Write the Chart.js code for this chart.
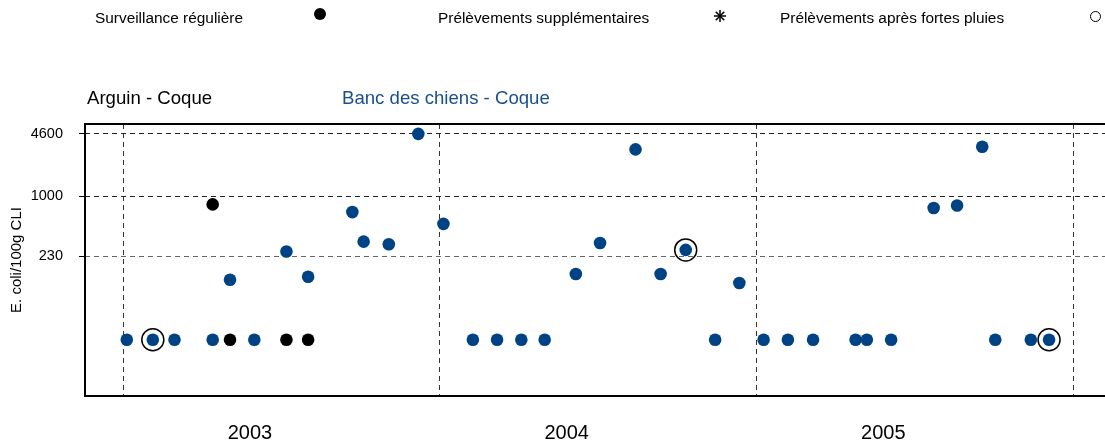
<!DOCTYPE html>
<html>
<head>
<meta charset="utf-8">
<script src="https://cdn.jsdelivr.net/npm/chart.js@4"></script>
<style>
  html,body{margin:0;padding:0;background:#fff;overflow:hidden;}
  body{font-family:"Liberation Sans",Arial,sans-serif;color:#000;}
  #wrap{position:relative;width:1105px;height:447px;}
  #wrap canvas{position:absolute;left:0;top:0;}
  .lbl{position:absolute;white-space:nowrap;line-height:1;}
  .dot{position:absolute;width:12px;height:12px;border-radius:50%;background:#000;}
  .ring{position:absolute;width:9px;height:9px;border-radius:50%;border:1.3px solid #000;}
</style>
</head>
<body>
<div id="wrap">
  <canvas id="chart"></canvas>
  <span class="lbl" style="left:95px;top:10px;font-size:15.4px;">Surveillance régulière</span>
  <div class="dot" style="left:314px;top:8px;"></div>
  <span class="lbl" style="left:438px;top:10px;font-size:15.4px;">Prélèvements supplémentaires</span>
  <svg style="position:absolute;left:713px;top:9px;" width="14" height="14" viewBox="0 0 14 14">
    <g stroke="#000" stroke-width="1.5"><line x1="7" y1="1" x2="7" y2="13"/><line x1="1" y1="7" x2="13" y2="7"/><line x1="2.8" y1="2.8" x2="11.2" y2="11.2"/><line x1="11.2" y1="2.8" x2="2.8" y2="11.2"/></g>
  </svg>
  <span class="lbl" style="left:780px;top:10px;font-size:15.4px;">Prélèvements après fortes pluies</span>
  <div class="ring" style="left:1090px;top:11px;"></div>
  <span class="lbl" style="left:87px;top:89px;font-size:18.6px;">Arguin - Coque</span>
  <span class="lbl" style="left:342px;top:89px;font-size:18.6px;color:#1a4f8f;">Banc des chiens - Coque</span>
</div>
<script>
// Banc des chiens - Coque (blue)
const bancDates=["2003-01-05","2003-02-04","2003-03-01","2003-04-14","2003-05-04","2003-06-01","2003-07-08","2003-08-02","2003-09-22","2003-10-05","2003-11-03","2003-12-07",
  "2004-01-05","2004-02-08","2004-03-07","2004-04-04","2004-05-01","2004-06-06","2004-07-04","2004-08-14","2004-09-12","2004-10-11","2004-11-14","2004-12-12",
  "2005-01-09","2005-02-06","2005-03-07","2005-04-25","2005-05-08","2005-06-05","2005-07-24","2005-08-20","2005-09-18","2005-10-03","2005-11-13","2005-12-04"];
const bancValues=[30,30,30,30,130,30,260,140,680,330,310,4600,
  510,30,30,30,30,150,320,3150,150,270,30,120,
  30,30,30,30,30,30,750,800,3350,30,30,30];

// Arguin - Coque (black)
const arguinDates=["2003-04-14","2003-05-04","2003-07-08","2003-08-02"];
const arguinValues=[820,30,30,30];

// samples after heavy rain (circled)
const rainDates=["2003-02-04","2004-10-11","2005-12-04"];
const rainValues=[30,270,30];

const yTicks=[230,1000,4600];
const yearLabels=["2003","2004","2005"];
const yearLines=[2003,2004,2005,2006];

function toYear(s){
  const [y,m,d]=s.split("-").map(Number);
  const start=Date.UTC(y,0,1), end=Date.UTC(y+1,0,1);
  return y+(Date.UTC(y,m-1,d)-start)/(end-start);
}
const pts=(dates,vals)=>dates.map((d,i)=>({x:toYear(d),y:vals[i]}));

const xTickVals=yearLines.concat(yearLabels.map(l=>Number(l)+0.4)).sort((a,b)=>a-b);

const frame={
  id:"frame",
  afterDraw(chart){
    const {ctx,chartArea:a}=chart;
    ctx.save();
    ctx.strokeStyle="#000";ctx.lineWidth=2;
    ctx.beginPath();
    ctx.moveTo(a.right,a.top);ctx.lineTo(a.left,a.top);ctx.lineTo(a.left,a.bottom);ctx.lineTo(a.right,a.bottom);
    ctx.stroke();
    ctx.restore();
  }
};

const cv=document.getElementById("chart");
cv.width=1105;cv.height=447;

new Chart(cv,{
  type:"scatter",
  data:{datasets:[
    {label:"Banc des chiens - Coque",data:pts(bancDates,bancValues),backgroundColor:"#004384",borderWidth:0,pointRadius:6.3,pointHoverRadius:6.3},
    {label:"Arguin - Coque",data:pts(arguinDates,arguinValues),backgroundColor:"#000",borderWidth:0,pointRadius:6.3,pointHoverRadius:6.3},
    {label:"Prélèvements après fortes pluies",data:pts(rainDates,rainValues),backgroundColor:"rgba(0,0,0,0)",borderColor:"#000",borderWidth:1.5,pointRadius:11,pointHoverRadius:11}
  ]},
  options:{
    responsive:false,animation:false,
    layout:{autoPadding:false,padding:{top:124,left:0,right:0,bottom:0}},
    plugins:{legend:{display:false},tooltip:{enabled:false}},
    scales:{
      x:{
        type:"linear",min:2002.879,max:2006.1,
        afterBuildTicks(s){s.ticks=xTickVals.map(v=>({value:v}));},
        afterFit(s){s.height=51;},
        grid:{drawTicks:false,lineWidth:1,color:c=>Number.isInteger(c.tick&&c.tick.value)?"#333":"rgba(0,0,0,0)"},
        border:{display:false,dash:[5,4]},
        ticks:{autoSkip:false,maxRotation:0,padding:25,color:"#000",font:{family:"Liberation Sans",size:20},
          callback:v=>Number.isInteger(v)?"":String(Math.floor(v))}
      },
      y:{
        type:"logarithmic",min:7.6,max:5850,
        afterBuildTicks(s){s.ticks=yTicks.map(v=>({value:v}));},
        afterFit(s){s.width=85;},
        grid:{drawTicks:true,tickLength:6,tickColor:"#000",tickWidth:1,lineWidth:1,color:c=>c.tick&&c.tick.value===230?"#666":"#222"},
        border:{display:false,dash:[5,4]},
        ticks:{padding:16,color:"#000",font:{family:"Liberation Sans",size:14.5},callback:v=>String(v)},
        title:{display:true,text:"E. coli/100g CLI",color:"#000",font:{family:"Liberation Sans",size:15},padding:{top:8,bottom:0}}
      }
    }
  },
  plugins:[frame]
});
</script>
</body>
</html>
